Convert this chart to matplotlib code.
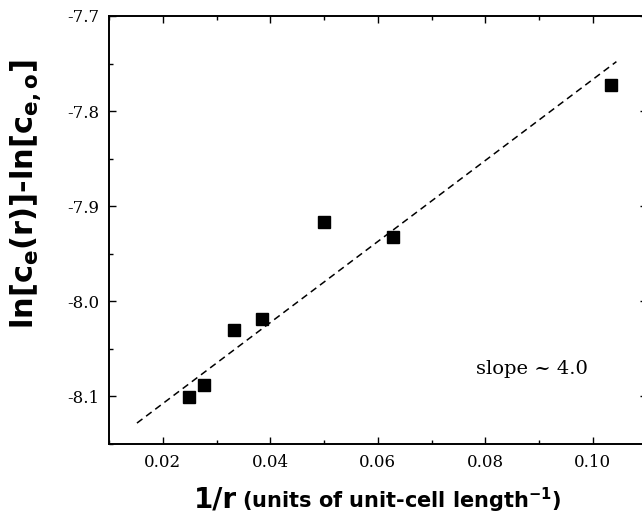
import numpy as np
import matplotlib
matplotlib.use('Agg')
import matplotlib.pyplot as plt
from matplotlib.ticker import MultipleLocator, FormatStrFormatter

# data
inv_r = [0.0248, 0.0276, 0.0333, 0.0384, 0.0500, 0.0628, 0.1034]
ln_ratio = [-8.101, -8.088, -8.030, -8.019, -7.917, -7.932, -7.773]

# dashed guide line end points
fit_x = [0.0152, 0.1044]
fit_y = [-8.128, -7.748]

slope_label = 'slope ~ 4.0'

plt.rcParams['axes.unicode_minus'] = False
plt.rcParams['mathtext.fontset'] = 'custom'
plt.rcParams['mathtext.rm'] = 'DejaVu Sans:bold'
plt.rcParams['mathtext.it'] = 'DejaVu Sans:bold'
plt.rcParams['mathtext.bf'] = 'DejaVu Sans:bold'

fig = plt.figure(figsize=(6.42, 5.19), dpi=100)
# right spine sits just outside the picture, as in the reference
ax = fig.add_axes([109/642, 75/519, 537.5/642, 428/519])

ax.plot(inv_r, ln_ratio, 's', color='black', markersize=9, zorder=3)
ax.plot(fit_x, fit_y, color='black', lw=1.1, dashes=(4.5, 3))

ax.text(0.0783, -8.0714, slope_label, ha='left', va='center',
        family='DejaVu Serif', fontsize=14)

ax.set_xlim(0.01, 0.11)
ax.set_ylim(-8.15, -7.7)
ax.xaxis.set_major_locator(MultipleLocator(0.02))
ax.xaxis.set_minor_locator(MultipleLocator(0.01))
ax.yaxis.set_major_locator(MultipleLocator(0.1))
ax.yaxis.set_minor_locator(MultipleLocator(0.05))
ax.xaxis.set_major_formatter(FormatStrFormatter('%.2f'))
ax.yaxis.set_major_formatter(FormatStrFormatter('%.1f'))

ax.tick_params(which='both', direction='in', top=True, right=True, width=1.0)
ax.tick_params(which='major', length=5, pad=7, labelsize=12,
               labelfontfamily='DejaVu Serif')
ax.tick_params(which='minor', length=3)
for s in ax.spines.values():
    s.set_linewidth(1.4)

fig.text(26/642, 0.626, r'$\mathrm{ln[c_{e}(r)]}$-$\mathrm{ln[c_{e,o}]}$', rotation=90,
         ha='center', va='center', fontsize=22, family='DejaVu Sans', weight='bold')
fig.text(194/642, 11/519, '1/r', ha='left', va='baseline',
         family='DejaVu Sans', weight='bold', fontsize=20)
fig.text(242/642, 11/519, r'(units of unit-cell length$^{\mathrm{-1}}$)', ha='left', va='baseline',
         family='DejaVu Sans', weight='bold', fontsize=15)

fig.savefig('out.png', dpi=100)
